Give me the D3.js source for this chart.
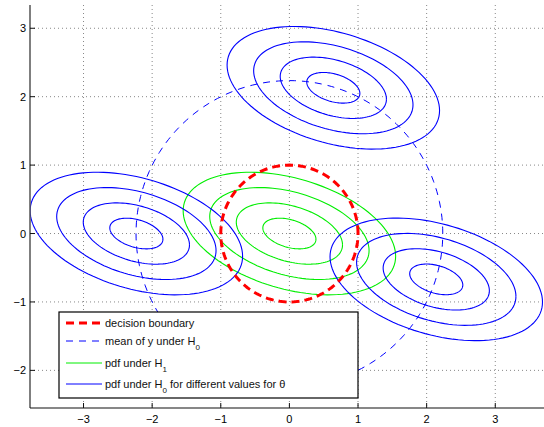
<!DOCTYPE html>
<html>
<head>
<meta charset="utf-8">
<script src="https://cdn.jsdelivr.net/npm/d3@7"></script>
<style>
  body { margin: 0; background: #fff; }
  svg text { font-family: "Liberation Sans", Arial, sans-serif; }
</style>
</head>
<body>
<svg id="chart" width="544" height="427"></svg>
<script>
// tick values
var x_ticks = [-3, -2, -1, 0, 1, 2, 3]
var y_ticks = [-2, -1, 0, 1, 2, 3]

// pdf contours: centers of each gaussian and the shared shape
var h1_center = [[0, 0]]
var h0_centers = [[-2.23, 0.0], [0.64, 2.13], [2.14, -0.67]]
var sigma = [0.387, 0.224]   // std dev in x, y
var rho = -0.37               // correlation
var levels = [1, 2, 3, 4]     // contour radius (mahalanobis)

// circles: decision boundary and mean of y under H0
var boundary_radius = [1]
var mean_radius = [2.235]

var legend_labels = [
  {text: "decision boundary", sub: ""},
  {text: "mean of y under H", sub: "0"},
  {text: "pdf under H", sub: "1"},
  {text: "pdf under H", sub: "0", tail: " for different values for \u03B8"}
]

var svg = d3.select("#chart"),
    pl = 30, pr = 544, pt = 5, pb = 408

var x = d3.scaleLinear().domain([-3.78, 3.71]).range([pl, pr])
var y = d3.scaleLinear().domain([-2.55, 3.34]).range([pb, pt])

// grid
svg.append("g").selectAll("line")
  .data(x_ticks).enter().append("line")
    .attr("x1", function(d) { return x(d) }).attr("x2", function(d) { return x(d) })
    .attr("y1", pt).attr("y2", pb)
    .attr("stroke", "#888").attr("stroke-width", 1)
    .attr("stroke-dasharray", "1,3")

svg.append("g").selectAll("line")
  .data(y_ticks).enter().append("line")
    .attr("y1", function(d) { return y(d) }).attr("y2", function(d) { return y(d) })
    .attr("x1", pl).attr("x2", pr)
    .attr("stroke", "#888").attr("stroke-width", 1)
    .attr("stroke-dasharray", "1,3")

// ellipse points from center + cholesky of covariance
var ellipse = function(c, r) {
  var l11 = sigma[0], l21 = rho * sigma[1], l22 = sigma[1] * Math.sqrt(1 - rho * rho)
  return d3.range(0, 361, 3).map(function(a) {
    var t = a * Math.PI / 180, u = Math.cos(t), v = Math.sin(t)
    return [c[0] + r * l11 * u, c[1] + r * (l21 * u + l22 * v)]
  })
}
var circle = function(r) {
  return d3.range(0, 361, 2).map(function(a) {
    var t = a * Math.PI / 180
    return [r * Math.cos(t), r * Math.sin(t)]
  })
}

var line = d3.line()
  .x(function(d) { return x(d[0]) })
  .y(function(d) { return y(d[1]) })

var clip = svg.append("clipPath").attr("id", "plotclip")
clip.append("rect").attr("x", pl).attr("y", pt).attr("width", pr - pl).attr("height", pb - pt)
var plot = svg.append("g").attr("clip-path", "url(#plotclip)")

h1_center.forEach(function(c) {
  levels.forEach(function(r) {
    plot.append("path").attr("d", line(ellipse(c, r)))
      .attr("fill", "none").attr("stroke", "#00ee00").attr("stroke-width", 1.1)
  })
})

h0_centers.forEach(function(c) {
  levels.forEach(function(r) {
    plot.append("path").attr("d", line(ellipse(c, r)))
      .attr("fill", "none").attr("stroke", "#0000ff").attr("stroke-width", 1.1)
  })
})

mean_radius.forEach(function(r) {
  plot.append("path").attr("d", line(circle(r)))
    .attr("fill", "none").attr("stroke", "#0000ff").attr("stroke-width", 1)
    .attr("stroke-dasharray", "7,6")
})

boundary_radius.forEach(function(r) {
  plot.append("path").attr("d", line(circle(r)))
    .attr("fill", "none").attr("stroke", "#ff0000").attr("stroke-width", 3)
    .attr("stroke-dasharray", "8,5")
})

// axes (left and bottom only, ticks inward)
svg.append("line").attr("x1", pl).attr("x2", pl).attr("y1", pt).attr("y2", pb)
  .attr("stroke", "#555").attr("stroke-width", 1.5)
svg.append("line").attr("x1", pl).attr("x2", pr).attr("y1", pb).attr("y2", pb)
  .attr("stroke", "#111").attr("stroke-width", 1.2)

svg.append("g").selectAll("line").data(x_ticks).enter().append("line")
  .attr("x1", function(d) { return x(d) }).attr("x2", function(d) { return x(d) })
  .attr("y1", pb).attr("y2", pb - 5).attr("stroke", "#111")
svg.append("g").selectAll("line").data(y_ticks).enter().append("line")
  .attr("y1", function(d) { return y(d) }).attr("y2", function(d) { return y(d) })
  .attr("x1", pl).attr("x2", pl + 5).attr("stroke", "#111")

svg.append("g").selectAll("text").data(x_ticks).enter().append("text")
  .attr("x", function(d) { return x(d) }).attr("y", 423)
  .attr("text-anchor", "middle").attr("font-size", "11px")
  .text(function(d) { return d < 0 ? "\u2212" + (-d) : d })
svg.append("g").selectAll("text").data(y_ticks).enter().append("text")
  .attr("x", 26).attr("y", function(d) { return y(d) + 4 })
  .attr("text-anchor", "end").attr("font-size", "11px")
  .text(function(d) { return d < 0 ? "\u2212" + (-d) : d })

// legend
var lg = svg.append("g")
lg.append("rect").attr("x", 59).attr("y", 312).attr("width", 299).attr("height", 86)
  .attr("fill", "#fff").attr("stroke", "#000").attr("stroke-width", 1.2)

var row_y = [323, 341, 363, 384]
var styles = [
  {c: "#ff0000", w: 3, dash: "8,5"},
  {c: "#0000ff", w: 1, dash: "7,6"},
  {c: "#00ee00", w: 1, dash: null},
  {c: "#0000ff", w: 1, dash: null}
]
legend_labels.forEach(function(d, i) {
  lg.append("line").attr("x1", 66).attr("x2", 102).attr("y1", row_y[i]).attr("y2", row_y[i])
    .attr("stroke", styles[i].c).attr("stroke-width", styles[i].w)
    .attr("stroke-dasharray", styles[i].dash)
  var t = lg.append("text").attr("x", 105).attr("y", row_y[i] + 4).attr("font-size", "11px").attr("fill", "#111")
  t.append("tspan").text(d.text)
  if (d.sub) t.append("tspan").attr("font-size", "8px").attr("dy", 5).text(d.sub)
  if (d.tail) t.append("tspan").attr("dy", -5).text(d.tail)
})
</script>
</body>
</html>
